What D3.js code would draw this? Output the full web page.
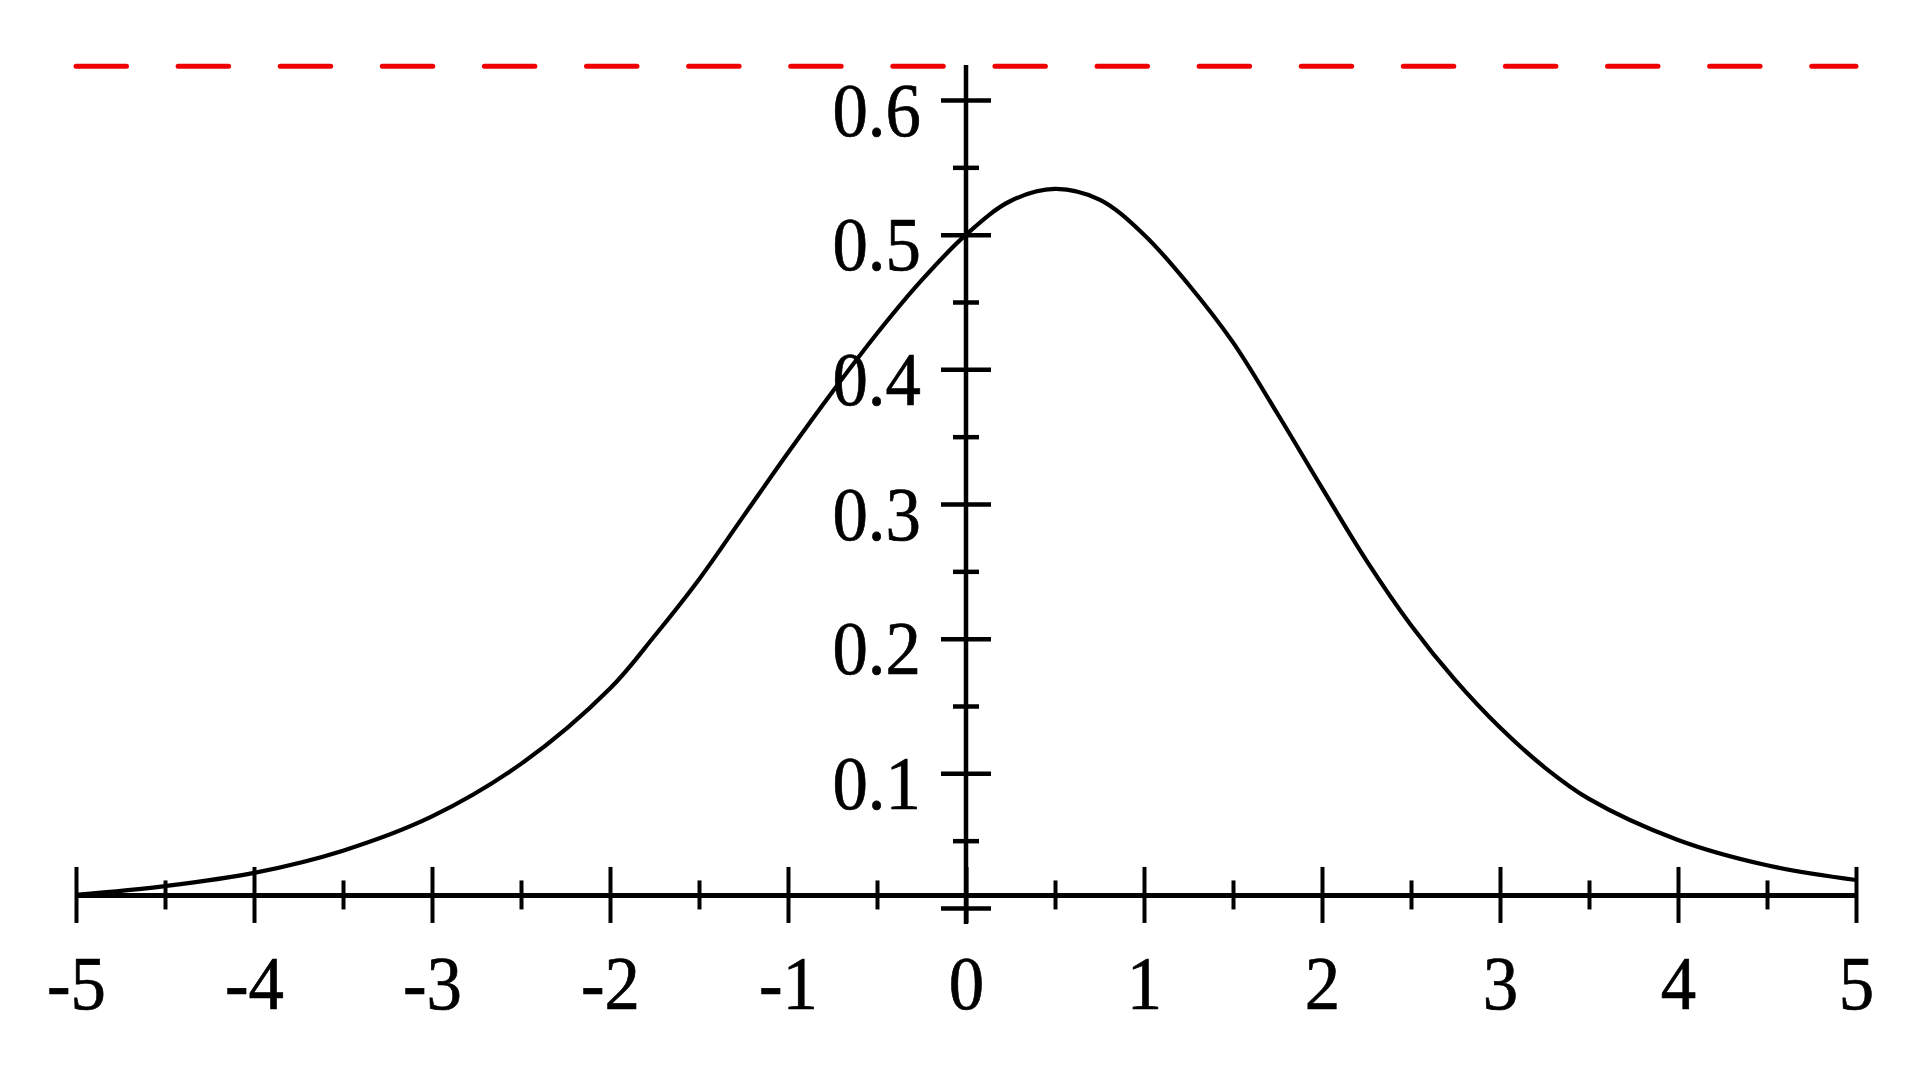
<!DOCTYPE html>
<html>
<head>
<meta charset="utf-8">
<script src="https://cdn.jsdelivr.net/npm/d3@7"></script>
<style>
  html, body { margin: 0; padding: 0; background: #fff; }
  svg { display: block; }
  text { font-family: "Liberation Serif", "Times New Roman", serif; fill: #000; }
</style>
</head>
<body>
<svg id="chart" width="1920" height="1080"></svg>
<script>
// ---- data ----
const curveX = [-5, -4.5, -4, -3.5, -3, -2.5, -2, -1.75, -1.5, -1.25, -1, -0.75, -0.5, -0.25, 0,
                0.25, 0.5, 0.75, 1, 1.25, 1.5, 1.75, 2, 2.25, 2.5, 2.75, 3, 3.25, 3.5, 4, 4.5, 5];
const curveY = [0.0097, 0.0163, 0.0261, 0.0426, 0.068, 0.107, 0.163, 0.202, 0.244, 0.291, 0.338, 0.3834, 0.4266, 0.466, 0.500,
                0.525, 0.534, 0.526, 0.500, 0.463, 0.420, 0.367, 0.312, 0.258, 0.210, 0.169, 0.134, 0.1045, 0.081, 0.0505, 0.0317, 0.0208];
const refLineY = 0.625;                         // red dashed horizontal line
const xMajorTicks = [-5, -4, -3, -2, -1, 0, 1, 2, 3, 4, 5];
const xMinorTicks = [-4.5, -3.5, -2.5, -1.5, -0.5, 0.5, 1.5, 2.5, 3.5, 4.5];
const xTickLabels = ["-5", "-4", "-3", "-2", "-1", "0", "1", "2", "3", "4", "5"];
const yMajorTicks = [0, 0.1, 0.2, 0.3, 0.4, 0.5, 0.6];
const yMinorTicks = [0.05, 0.15, 0.25, 0.35, 0.45, 0.55];
const yTickLabels = ["", "0.1", "0.2", "0.3", "0.4", "0.5", "0.6"];

// ---- layout ----
const svg = d3.select("#chart");
const x = d3.scaleLinear().domain([-5, 5]).range([76, 1856]);
const y = d3.scaleLinear().domain([0, 0.6]).range([908, 100]);
const axisY0 = d3.min(curveY);                 // horizontal axis sits at the lower bound of the view
const axisYpx = y(axisY0);
const fontSize = 77;
const squeeze = 0.92;
const FONT = "Liberation Serif, Times New Roman, serif";

// red dashed reference line
svg.append("line")
  .attr("x1", x(-5)).attr("x2", x(5))
  .attr("y1", y(refLineY)).attr("y2", y(refLineY))
  .attr("stroke", "#f00000").attr("stroke-width", 5)
  .attr("stroke-linecap", "round")
  .attr("stroke-dasharray", "50.5 51.6");

// ---- x axis ----
const xAxisG = svg.append("g").attr("transform", `translate(0,${axisYpx})`);
xAxisG.call(d3.axisBottom(x).tickValues(xMajorTicks).tickSize(28).tickSizeOuter(0)
  .tickFormat((d, i) => xTickLabels[i]));
xAxisG.attr("font-family", null).attr("font-size", null);
xAxisG.select(".domain").attr("stroke", "#000").attr("stroke-width", 5);
xAxisG.selectAll(".tick line").attr("y1", -28).attr("y2", 28)
  .attr("stroke", "#000").attr("stroke-width", 4);
xAxisG.selectAll(".tick text")
  .attr("x", 0).attr("y", 0).attr("dy", null)
  .attr("transform", `translate(0,${1009 - axisYpx}) scale(${squeeze},1)`)
  .attr("font-size", fontSize).attr("text-anchor", "middle")
  .attr("font-family", FONT)
  .attr("stroke", "#000").attr("stroke-width", 0.7);

// x minor ticks
const xMinorG = svg.append("g").attr("transform", `translate(0,${axisYpx})`);
xMinorG.call(d3.axisBottom(x).tickValues(xMinorTicks).tickSize(14.5).tickSizeOuter(0).tickFormat(""));
xMinorG.select(".domain").remove();
xMinorG.selectAll(".tick line").attr("y1", -14.5).attr("y2", 14.5)
  .attr("stroke", "#000").attr("stroke-width", 4);

// ---- y axis ----
const y0px = x(0);
svg.append("line")
  .attr("x1", y0px).attr("x2", y0px)
  .attr("y1", 65).attr("y2", 924)
  .attr("stroke", "#000").attr("stroke-width", 4.5);

const yAxisG = svg.append("g").attr("transform", `translate(${y0px},0)`);
yAxisG.call(d3.axisLeft(y).tickValues(yMajorTicks).tickSize(25).tickSizeOuter(0)
  .tickFormat((d, i) => yTickLabels[i]));
yAxisG.attr("font-family", null).attr("font-size", null);
yAxisG.select(".domain").remove();
yAxisG.selectAll(".tick line").attr("x1", -25).attr("x2", 25)
  .attr("stroke", "#000").attr("stroke-width", 4.5);
yAxisG.selectAll(".tick text")
  .attr("x", 0).attr("y", 0).attr("dy", null)
  .attr("transform", `translate(-45,35) scale(${squeeze},1)`)
  .attr("font-size", fontSize).attr("text-anchor", "end")
  .attr("font-family", FONT)
  .attr("stroke", "#000").attr("stroke-width", 0.7);

const yMinorG = svg.append("g").attr("transform", `translate(${y0px},0)`);
yMinorG.call(d3.axisLeft(y).tickValues(yMinorTicks).tickSize(13).tickSizeOuter(0).tickFormat(""));
yMinorG.select(".domain").remove();
yMinorG.selectAll(".tick line").attr("x1", -13).attr("x2", 13)
  .attr("stroke", "#000").attr("stroke-width", 4.5);

// ---- curve ----
const pts = curveX.map((d, i) => [d, curveY[i]]);
const line = d3.line()
  .x(d => x(d[0]))
  .y(d => y(d[1]))
  .curve(d3.curveCatmullRom.alpha(0.5));
svg.append("path")
  .attr("d", line(pts))
  .attr("fill", "none")
  .attr("stroke", "#000")
  .attr("stroke-width", 4.2)
  .attr("stroke-linejoin", "round");
</script>
</body>
</html>
